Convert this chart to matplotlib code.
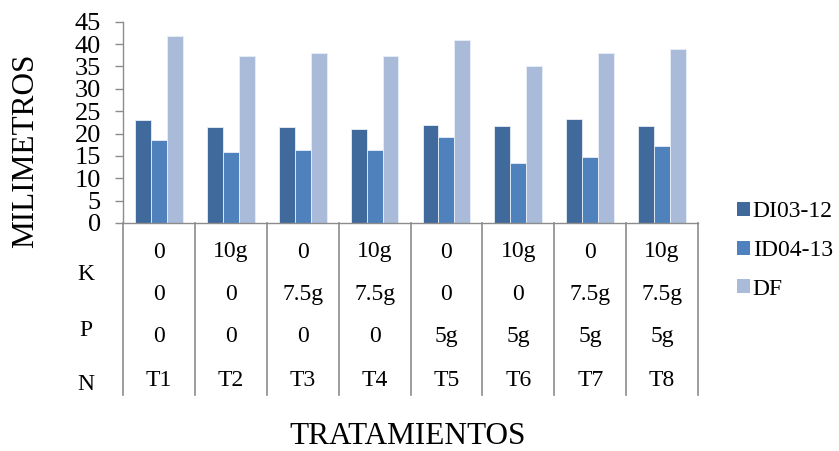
import matplotlib
matplotlib.use("Agg")
import matplotlib.pyplot as plt
import numpy as np
from matplotlib.patches import Patch
from matplotlib.transforms import blended_transform_factory

plt.rcParams["font.family"] = ["Liberation Serif", "DejaVu Serif"]

# ── Data ──
tratamientos = ["T1", "T2", "T3", "T4", "T5", "T6", "T7", "T8"]
k_dosis = ["0", "10g", "0", "10g", "0", "10g", "0", "10g"]
p_dosis = ["0", "0", "7.5g", "7.5g", "0", "0", "7.5g", "7.5g"]
n_dosis = ["0", "0", "0", "0", "5g", "5g", "5g", "5g"]

di03_12 = [23.1, 21.4, 21.5, 21.0, 21.9, 21.6, 23.2, 21.6]
id04_13 = [18.6, 15.9, 16.4, 16.3, 19.2, 13.4, 14.8, 17.3]
df_vals = [41.8, 37.3, 38.0, 37.3, 41.0, 35.0, 38.1, 39.0]

series = [("DI03-12", di03_12, "#406A9C"),
          ("ID04-13", id04_13, "#4F81BD"),
          ("DF", df_vals, "#AABBDA")]

GRID_GRAY = "#8C8C8C"
FS = 17

# ── Figure ──
W, H = 839, 451
fig = plt.figure(figsize=(W / 100, H / 100), dpi=100)
x0, x1, y_top, y_zero = 123, 698, 21.7, 223
ax = fig.add_axes([x0 / W, 1 - y_zero / H, (x1 - x0) / W, (y_zero - y_top) / H])

n = len(tratamientos)
bw = 0.222
xs = np.arange(n) + 0.5
for j, (name, vals, col) in enumerate(series):
    ax.bar(xs + (j - 1) * bw, vals, width=bw, color=col,
           edgecolor="#E8EEF7", linewidth=0.6, label=name, zorder=2)

ax.set_xlim(0, n)
ax.set_ylim(0, 45)
ax.set_yticks(np.arange(0, 46, 5))
ax.tick_params(axis="y", direction="out", length=6, width=1,
               color=GRID_GRAY, labelsize=19, pad=10)
ax.set_xticks([])
for s in ["top", "right"]:
    ax.spines[s].set_visible(False)
ax.spines["left"].set_color(GRID_GRAY)
ax.spines["bottom"].set_color(GRID_GRAY)
ax.spines["left"].set_linewidth(1)
ax.spines["bottom"].set_linewidth(1)

# ── Multi-level category table under the axis ──
ah = y_zero - y_top
def yfrac(py):
    return (y_zero - py) / ah

trans = blended_transform_factory(ax.transData, ax.transAxes)
for b in range(n + 1):
    ax.plot([b, b], [0, yfrac(395)], transform=trans, color=GRID_GRAY,
            lw=1.2, clip_on=False, zorder=1)

rows = [(k_dosis, 252), (p_dosis, 295), (n_dosis, 337), (tratamientos, 381)]
for labels, py in rows:
    for i, lab in enumerate(labels):
        ax.text(i + 0.5, yfrac(py), lab, transform=trans, ha="center",
                va="center", fontsize=FS)

for lab, py in [("K", 275), ("P", 330), ("N", 385)]:
    fig.text(86 / W, 1 - py / H, lab, ha="center", va="center", fontsize=FS)

# ── Axis titles ──
fig.text(26 / W, 1 - 151 / H, "MILIMETROS", rotation=90, ha="center",
         va="center", fontsize=22.5)
fig.text(408 / W, 1 - 437 / H, "TRATAMIENTOS", ha="center", va="center",
         fontsize=22.5)

# ── Legend ──
handles = [Patch(facecolor=c, edgecolor="none") for _, _, c in series]
fig.legend(handles, [s[0] for s in series], loc="center left",
           bbox_to_anchor=(737 / W, 1 - 250.5 / H), frameon=False,
           fontsize=FS, handlelength=0.55, handleheight=0.55,
           handletextpad=0.12, labelspacing=0.75, borderaxespad=0,
           borderpad=0)

fig.savefig("out.png", dpi=100)
